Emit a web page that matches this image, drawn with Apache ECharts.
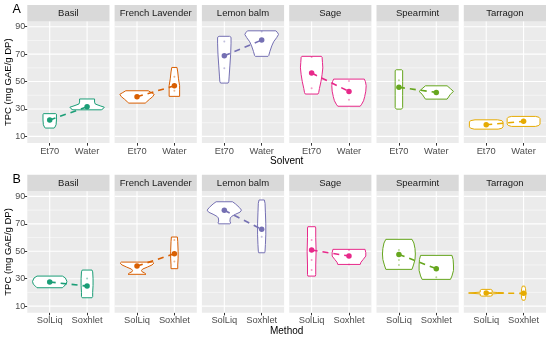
<!DOCTYPE html>
<html>
<head>
<meta charset="utf-8">
<script src="https://cdn.jsdelivr.net/npm/echarts@6/dist/echarts.min.js"></script>
<style>html,body{margin:0;padding:0;background:#fff;}#c{width:550px;height:339px;}</style>
</head>
<body>
<div id="c"></div>
<script>
// ---------------- data ----------------
const herbs = ['Basil', 'French Lavender', 'Lemon balm', 'Sage', 'Spearmint', 'Tarragon'];
const herbColors = ['#1B9E77', '#D95F02', '#7570B3', '#E7298A', '#66A61E', '#E6AB02'];
const solventLevels = ['Et70', 'Water'];
const methodLevels = ['SolLiq', 'Soxhlet'];
const yTicks = [10, 30, 50, 70, 90];
const yMinor = [20, 40, 60, 80];
const yTitle = 'TPC (mg GAE/g DP)';

// mean TPC per herb: [level1, level2]
const meansSolvent = [[22.0, 31.6], [38.9, 46.9], [68.8, 80.3], [56.2, 42.8], [45.8, 42.1], [18.5, 21.0]];
const meansMethod = [[27.6, 24.6], [39.2, 48.2], [79.9, 66.0], [50.9, 46.5], [47.7, 37.3], [19.5, 19.3]];

// violin outlines: [TPC value, half width (category units)], from top to bottom
const violinsSolvent = [
  [[[26.6,0.16],[26.2,0.18],[22,0.18],[18.5,0.17],[16.8,0.14],[16.1,0.12]],
   [[37.3,0.2],[35,0.2],[33.6,0.22],[32.3,0.35],[31.3,0.46],[30.2,0.43],[29.4,0.38]]],
  [[[43.3,0.3],[42,0.38],[40.7,0.46],[39,0.42],[37,0.33],[35,0.25],[34.3,0.22]],
   [[60.3,0.07],[57,0.09],[52,0.11],[47,0.14],[44,0.14],[39.2,0.14]]],
  [[[83,0.14],[82.3,0.18],[78,0.18],[70,0.17],[62,0.15],[54,0.13],[50,0.12],[48.9,0.1]],
   [[87,0.38],[85.5,0.43],[84.3,0.45],[82,0.4],[79,0.32],[76,0.27],[72,0.22],[69,0.19],[68.4,0.17]]],
  [[[68.4,0.26],[67.8,0.28],[64,0.29],[60,0.3],[55,0.28],[50,0.25],[45,0.21],[42,0.19],[40.9,0.17]],
   [[51.8,0.41],[50,0.44],[47,0.46],[43,0.45],[39,0.42],[36,0.39],[33.5,0.34],[32,0.3]]],
  [[[58.6,0.07],[58,0.1],[50,0.1],[40,0.1],[31,0.1],[29.9,0.07]],
   [[46.9,0.29],[44.8,0.38],[42.8,0.46],[40.8,0.38],[37.2,0.29]]],
  [[[22.1,0.3],[21.5,0.42],[20.5,0.45],[17,0.45],[16,0.42],[15.3,0.32]],
   [[24.6,0.32],[24,0.41],[23,0.44],[19,0.44],[18,0.41],[17.3,0.32]]]
];
const violinsMethod = [
  [[[31.9,0.34],[30.5,0.42],[28,0.46],[26,0.44],[24.5,0.38],[23.4,0.34]],
   [[36.3,0.13],[35,0.15],[30,0.16],[25,0.16],[20,0.15],[17,0.15],[16.1,0.13]]],
  [[[42.1,0.42],[41.3,0.45],[40,0.4],[38.5,0.28],[37,0.15],[36,0.12],[35.2,0.13],[34.2,0.2],[33.2,0.24]],
   [[60.4,0.08],[57,0.09],[50,0.1],[45,0.1],[40,0.09],[37.3,0.09]]],
  [[[86.1,0.22],[84.5,0.3],[82,0.4],[80,0.46],[78.5,0.42],[77,0.3],[75.5,0.2],[74.3,0.16],[72,0.15],[70.5,0.17],[70,0.15]],
   [[87.4,0.07],[85,0.09],[78,0.1],[70,0.11],[62,0.11],[55,0.1],[50,0.09],[48.9,0.08]]],
  [[[67.9,0.1],[67,0.11],[60,0.11],[50,0.12],[40,0.11],[33,0.11],[31.9,0.1]],
   [[51.4,0.43],[49,0.45],[46.5,0.45],[44,0.38],[42,0.32],[40.4,0.3]]],
  [[[58.7,0.35],[56,0.4],[52,0.43],[48,0.44],[44,0.43],[40,0.39],[36.8,0.35]],
   [[47,0.42],[44,0.45],[40,0.46],[36,0.46],[32,0.42],[29.5,0.38]]],
  [[[22.2,0.12],[21.6,0.16],[20.2,0.16],[19.9,0.3],[19.7,0.47],[19.4,0.47],[19.2,0.3],[18.9,0.16],[17.7,0.16],[17.3,0.12]],
   [[24.6,0.03],[23,0.05],[20.5,0.06],[19.3,0.07],[18,0.06],[15.5,0.05],[14.3,0.03]]]
];

// individual measurements (faint dots)
const pointsSolvent = [
  [[], []],
  [[], [53.5, 43.3]],
  [[79.3, 59.8], [86.5]],
  [[68, 45.2], [50.5, 36.7]],
  [[51], []],
  [[], []]
];
const pointsMethod = [
  [[], [30.2]],
  [[], [58.2, 42.5]],
  [[], [60.6]],
  [[58.2, 43.6, 36.3], [50.9, 40.4]],
  [[50.9, 43.6, 39.9], [31]],
  [[], []]
];

// ---------------- layout ----------------
const FONT = '"Liberation Sans", Arial, sans-serif';
const PANEL_LEFT = 27.3, PITCH = 87.3, PANEL_W = 82.2;
const rows = [
  { letter: 'A', stripTop: 5, top: 21.5, bottom: 143, axisTitle: 'Solvent', titleY: 161.5,
    levels: solventLevels, means: meansSolvent, violins: violinsSolvent, points: pointsSolvent },
  { letter: 'B', stripTop: 174.7, top: 191.2, bottom: 312.7, axisTitle: 'Method', titleY: 331,
    levels: methodLevels, means: meansMethod, violins: violinsMethod, points: pointsMethod }
];

const grids = [], xAxes = [], yAxes = [], series = [], graphics = [];

function gridRender(params, api) {
  const cs = params.coordSys;
  const ch = [];
  yMinor.forEach(v => {
    const y = api.coord([1, v])[1];
    ch.push({ type: 'line', shape: { x1: cs.x, y1: y, x2: cs.x + cs.width, y2: y }, style: { stroke: '#ffffff', lineWidth: 0.5 } });
  });
  yTicks.forEach(v => {
    const y = api.coord([1, v])[1];
    ch.push({ type: 'line', shape: { x1: cs.x, y1: y, x2: cs.x + cs.width, y2: y }, style: { stroke: '#ffffff', lineWidth: 1.1 } });
  });
  [1, 2].forEach(v => {
    const x = api.coord([v, 50])[0];
    ch.push({ type: 'line', shape: { x1: x, y1: cs.y, x2: x, y2: cs.y + cs.height }, style: { stroke: '#ffffff', lineWidth: 1.1 } });
  });
  return { type: 'group', children: ch };
}

function violinRender(profiles, color) {
  return function (params, api) {
    const k = params.dataIndex;
    const prof = profiles[k];
    const cx = k + 1;
    const right = prof.map(p => api.coord([cx + p[1], p[0]]));
    const left = prof.slice().reverse().map(p => api.coord([cx - p[1], p[0]]));
    return { type: 'polygon', shape: { points: right.concat(left) },
      style: { fill: '#ffffff', stroke: color, lineWidth: 1 } };
  };
}

rows.forEach((row, r) => {
  herbs.forEach((herb, c) => {
    const idx = r * herbs.length + c;
    const left = PANEL_LEFT + c * PITCH;
    const color = herbColors[c];
    grids.push({ left: left, top: row.top, width: PANEL_W, height: row.bottom - row.top,
      show: true, backgroundColor: '#EBEBEB', borderWidth: 0, containLabel: false });
    xAxes.push({ type: 'value', gridIndex: idx, min: 0.4, max: 2.6,
      axisLine: { show: false },
      axisTick: { show: true, length: 2.7, customValues: [1, 2], lineStyle: { color: '#333333', width: 1 } },
      axisLabel: { show: true, customValues: [1, 2], margin: 3.5, fontSize: 9.3, color: '#4D4D4D', fontFamily: FONT,
        formatter: v => row.levels[Math.round(v) - 1] },
      splitLine: { show: false } });
    yAxes.push({ type: 'value', gridIndex: idx, min: 5.2, max: 93.8,
      axisLine: { show: false },
      axisTick: { show: c === 0, length: 2.7, customValues: yTicks, lineStyle: { color: '#333333', width: 1 } },
      axisLabel: { show: c === 0, customValues: yTicks, margin: 2, fontSize: 9, color: '#4D4D4D', fontFamily: FONT },
      splitLine: { show: false } });
    series.push({ type: 'custom', xAxisIndex: idx, yAxisIndex: idx, silent: true, clip: false,
      renderItem: gridRender, data: [[1, 50]], z: 1 });
    series.push({ type: 'custom', xAxisIndex: idx, yAxisIndex: idx, silent: true, clip: false,
      renderItem: violinRender(row.violins[c], color),
      data: [[1, row.means[c][0]], [2, row.means[c][1]]], z: 2 });
    const pts = [];
    row.points[c].forEach((arr, k) => arr.forEach(v => pts.push([k + 1, v])));
    series.push({ type: 'scatter', xAxisIndex: idx, yAxisIndex: idx, silent: true, symbolSize: 2,
      itemStyle: { color: color, opacity: 0.45 }, data: pts, z: 3 });
    series.push({ type: 'line', xAxisIndex: idx, yAxisIndex: idx, silent: true,
      data: [[1, row.means[c][0]], [2, row.means[c][1]]],
      lineStyle: { color: color, width: 1.6, type: [6, 5] },
      symbol: 'circle', symbolSize: 5.5, showSymbol: true,
      itemStyle: { color: color, borderWidth: 0 }, z: 4 });
    // strip
    graphics.push({ type: 'rect', silent: true,
      shape: { x: left, y: row.stripTop, width: PANEL_W, height: row.top - row.stripTop },
      style: { fill: '#D9D9D9' } });
    graphics.push({ type: 'text', silent: true,
      style: { text: herb, x: left + PANEL_W / 2, y: (row.stripTop + row.top) / 2 + 0.5,
        textAlign: 'center', textVerticalAlign: 'middle', fontSize: 9.5, fill: '#1A1A1A', fontFamily: FONT } });
  });
  const plotLeft = PANEL_LEFT, plotRight = PANEL_LEFT + 5 * PITCH + PANEL_W;
  graphics.push({ type: 'text', silent: true,
    style: { text: row.axisTitle, x: (plotLeft + plotRight) / 2, y: row.titleY, textAlign: 'center',
      textVerticalAlign: 'middle', fontSize: 10, fill: '#000000', fontFamily: FONT } });
  graphics.push({ type: 'group', x: 8, y: (row.top + row.bottom) / 2, rotation: Math.PI / 2, silent: true,
    children: [{ type: 'text', style: { text: yTitle, x: 0, y: 0, textAlign: 'center', textVerticalAlign: 'middle',
      fontSize: 9.5, fill: '#000000', fontFamily: FONT } }] });
  graphics.push({ type: 'text', silent: true,
    style: { text: row.letter, x: 12.5, y: row.stripTop + 4.5, textAlign: 'left', textVerticalAlign: 'middle',
      fontSize: 12.5, fill: '#000000', fontFamily: FONT } });
});

const chart = echarts.init(document.getElementById('c'), null, { renderer: 'canvas' });
chart.setOption({
  animation: false,
  backgroundColor: '#ffffff',
  textStyle: { fontFamily: FONT },
  grid: grids, xAxis: xAxes, yAxis: yAxes, series: series,
  graphic: { elements: graphics }
});
</script>
</body>
</html>
